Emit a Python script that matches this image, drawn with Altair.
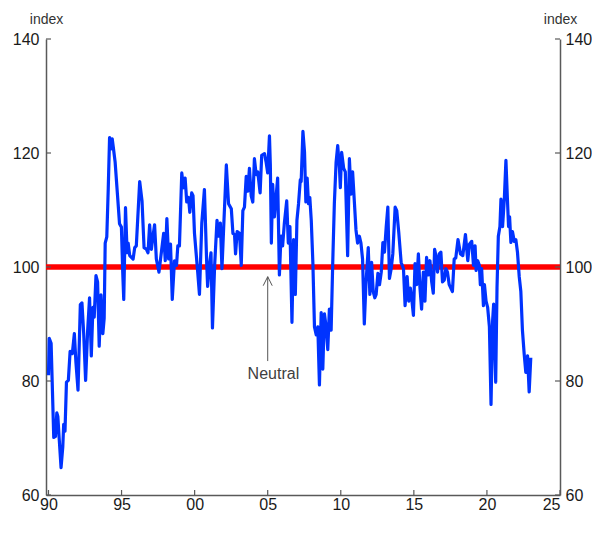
import altair as alt
import pandas as pd

# ---- data ----
years = [
    1990.00, 1990.05, 1990.18, 1990.36, 1990.48, 1990.57, 1990.64, 1990.73, 1990.86, 1990.98,
    1991.04, 1991.13, 1991.23, 1991.36, 1991.48, 1991.63, 1991.77, 1991.88, 1992.02, 1992.18,
    1992.29, 1992.41, 1992.54, 1992.68, 1992.81, 1992.93, 1993.04, 1993.13, 1993.25, 1993.36,
    1993.47, 1993.59, 1993.72, 1993.81, 1993.88, 1993.99, 1994.09, 1994.18, 1994.27, 1994.36,
    1994.45, 1994.56, 1994.72, 1994.86, 1994.99, 1995.08, 1995.15, 1995.27, 1995.38, 1995.45,
    1995.56, 1995.79, 1995.90, 1996.01, 1996.24, 1996.40, 1996.54, 1996.70, 1996.81, 1996.92,
    1997.04, 1997.15, 1997.26, 1997.38, 1997.56, 1997.72, 1997.88, 1997.99, 1998.10, 1998.22,
    1998.35, 1998.47, 1998.62, 1998.76, 1998.85, 1998.96, 1999.12, 1999.24, 1999.35, 1999.46,
    1999.58, 1999.67, 1999.80, 1999.89, 1999.99, 2000.10, 2000.21, 2000.33, 2000.49, 2000.67,
    2000.83, 2000.89, 2001.01, 2001.12, 2001.22, 2001.37, 2001.53, 2001.64, 2001.76, 2001.87,
    2001.98, 2002.17, 2002.32, 2002.51, 2002.62, 2002.73, 2002.80, 2002.91, 2003.07, 2003.19,
    2003.30, 2003.41, 2003.53, 2003.64, 2003.75, 2003.87, 2003.98, 2004.09, 2004.21, 2004.32,
    2004.48, 2004.59, 2004.78, 2004.89, 2005.00, 2005.12, 2005.18, 2005.25, 2005.34, 2005.46,
    2005.57, 2005.68, 2005.80, 2005.91, 2006.02, 2006.14, 2006.30, 2006.41, 2006.52, 2006.66,
    2006.77, 2006.89, 2007.00, 2007.11, 2007.23, 2007.29, 2007.41, 2007.52, 2007.61, 2007.70,
    2007.79, 2007.88, 2007.98, 2008.09, 2008.20, 2008.32, 2008.43, 2008.54, 2008.66, 2008.77,
    2008.88, 2009.00, 2009.11, 2009.22, 2009.34, 2009.45, 2009.56, 2009.68, 2009.79, 2009.91,
    2009.97, 2010.06, 2010.20, 2010.31, 2010.47, 2010.59, 2010.70, 2010.81, 2010.93, 2011.04,
    2011.15, 2011.27, 2011.38, 2011.49, 2011.61, 2011.72, 2011.88, 2011.99, 2012.11, 2012.22,
    2012.33, 2012.42, 2012.54, 2012.65, 2012.77, 2012.88, 2012.99, 2013.11, 2013.22, 2013.33,
    2013.45, 2013.56, 2013.72, 2013.83, 2013.97, 2014.13, 2014.29, 2014.40, 2014.54, 2014.65,
    2014.76, 2014.85, 2014.97, 2015.08, 2015.19, 2015.31, 2015.42, 2015.53, 2015.65, 2015.76,
    2015.87, 2015.99, 2016.10, 2016.22, 2016.33, 2016.42, 2016.51, 2016.62, 2016.74, 2016.85,
    2016.96, 2017.08, 2017.19, 2017.30, 2017.42, 2017.53, 2017.64, 2017.76, 2017.87, 2018.02,
    2018.19, 2018.35, 2018.53, 2018.69, 2018.80, 2018.96, 2019.08, 2019.19, 2019.26, 2019.37,
    2019.48, 2019.55, 2019.64, 2019.76, 2019.83, 2019.94, 2020.05, 2020.17, 2020.28, 2020.39,
    2020.46, 2020.60, 2020.69, 2020.78, 2020.89, 2020.96, 2021.07, 2021.19, 2021.30, 2021.41,
    2021.48, 2021.55, 2021.64, 2021.75, 2021.87, 2021.98, 2022.09, 2022.21, 2022.32, 2022.43,
    2022.55, 2022.66, 2022.78, 2022.89, 2023.00,
]
index_values = [
    81.0, 87.5, 86.6, 70.1, 70.3, 74.4, 73.8, 70.0, 64.8, 68.5,
    72.4, 71.2, 79.8, 80.1, 85.2, 84.8, 88.3, 83.2, 78.4, 93.4,
    93.7, 88.3, 80.1, 88.9, 94.6, 84.4, 92.9, 91.2, 98.5, 97.4,
    86.1, 95.1, 88.3, 91.0, 104.2, 105.3, 113.8, 122.7, 120.7, 122.5,
    120.7, 118.4, 112.7, 107.6, 107.0, 99.1, 94.3, 110.4, 102.5, 104.2,
    102.0, 101.4, 103.4, 103.7, 115.0, 111.6, 103.4, 103.1, 102.5, 107.4,
    103.1, 105.4, 107.4, 101.4, 99.1, 102.5, 105.9, 101.1, 108.5, 101.4,
    104.0, 94.3, 101.1, 100.3, 103.7, 103.7, 116.5, 113.9, 115.6, 111.4,
    112.2, 109.6, 113.0, 112.5, 105.9, 102.5, 99.1, 95.2, 107.7, 113.6,
    100.3, 96.6, 100.3, 102.5, 89.3, 100.3, 108.2, 105.4, 107.7, 99.7,
    106.5, 117.9, 111.1, 110.2, 105.9, 105.7, 102.3, 106.2, 105.9, 100.3,
    109.9, 110.5, 115.9, 113.3, 117.3, 112.5, 111.4, 119.0, 116.2, 116.7,
    113.0, 119.6, 119.9, 118.4, 116.5, 123.0, 117.9, 104.2, 114.5, 108.8,
    112.2, 115.6, 98.6, 105.4, 103.7, 107.7, 111.6, 104.2, 107.1, 90.3,
    104.8, 95.2, 108.2, 111.1, 115.3, 115.0, 123.8, 120.1, 111.4, 115.6,
    111.1, 112.2, 108.2, 100.8, 89.5, 88.1, 89.5, 79.3, 92.0, 82.1,
    91.8, 89.5, 85.5, 92.6, 88.9, 100.8, 111.1, 118.4, 121.3, 117.3,
    113.9, 120.1, 117.3, 116.7, 102.0, 119.0, 112.8, 116.7, 111.4, 106.5,
    104.2, 105.4, 104.2, 101.4, 90.0, 96.9, 103.4, 95.2, 100.8, 95.7,
    94.6, 95.2, 98.9, 96.9, 99.1, 104.3, 102.6, 107.1, 110.5, 98.0,
    99.7, 102.3, 110.5, 109.9, 106.0, 100.8, 99.7, 93.2, 98.3, 94.0,
    96.3, 94.6, 91.5, 100.6, 96.9, 102.3, 96.3, 92.6, 99.1, 94.0,
    101.7, 98.6, 101.1, 97.4, 95.4, 103.1, 102.0, 99.1, 102.3, 102.6,
    97.4, 97.7, 99.7, 99.1, 96.9, 96.3, 95.7, 101.4, 101.6, 104.8,
    102.3, 102.0, 105.7, 101.1, 104.0, 104.5, 100.3, 103.7, 99.4, 101.1,
    100.3, 96.9, 99.7, 93.2, 96.9, 94.0, 92.9, 89.5, 75.9, 90.6,
    93.5, 79.8, 96.3, 105.4, 107.1, 111.9, 107.1, 111.9, 118.7, 111.4,
    107.1, 108.8, 104.3, 106.2, 104.5, 104.8, 102.6, 98.3, 95.7, 88.9,
    84.7, 81.5, 84.4, 78.1, 84.1,
]
y_ticks = [60, 80, 100, 120, 140]
x_ticks = [1990, 1995, 2000, 2005, 2010, 2015, 2020, 2025]
neutral_level = [100]
annotation_text = "Neutral"

# ---- layout ----
W, H = 514, 456
FONT = "Liberation Sans"
AXIS_GRAY = "#595959"

df = pd.DataFrame({"year": years, "index": index_values})
ytick_df = pd.DataFrame({"v": y_ticks})
xtick_df = pd.DataFrame({"v": x_ticks})
neutral_df = pd.DataFrame({"level": neutral_level})

x_scale = alt.Scale(domain=[1989.83, 2025], nice=False, zero=False)
y_scale = alt.Scale(domain=[60, 140], nice=False, zero=False)


def y_axis(orient, pad):
    return alt.Axis(
        orient=orient, values=y_ticks, ticks=False, grid=False,
        domain=True, domainColor=AXIS_GRAY, domainWidth=1.5,
        labelFont=FONT, labelFontSize=16, labelColor="#1a1a1a", labelPadding=pad,
        title="index", titleAngle=0, titleX=0, titleY=-16,
        titleAlign="center", titleBaseline="alphabetic",
        titleFont=FONT, titleFontSize=14, titleFontWeight="normal", titleColor="#333333",
    )


x_axis = alt.Axis(
    orient="bottom", values=x_ticks, ticks=False, grid=False,
    domain=True, domainColor=AXIS_GRAY, domainWidth=1.5,
    labelFont=FONT, labelFontSize=16, labelColor="#1a1a1a", labelPadding=1,
    labelExpr="slice('0' + (datum.value % 100), -2)", title=None,
)

neutral_rule = alt.Chart(neutral_df).mark_rule(color="#FF0000", strokeWidth=5.5).encode(
    y=alt.Y("level:Q", scale=y_scale, axis=y_axis("right", 5)),
    x=alt.value(0), x2=alt.value(W),
)

line = alt.Chart(df).mark_line(color="#0033FF", strokeWidth=3.2, strokeJoin="round").encode(
    x=alt.X("year:Q", scale=x_scale, axis=x_axis),
    y=alt.Y("index:Q", scale=y_scale, axis=y_axis("left", 7)),
    order="year:Q",
)

left_ticks = alt.Chart(ytick_df).mark_rule(color=AXIS_GRAY, strokeWidth=1.2).encode(
    y=alt.Y("v:Q", scale=y_scale, axis=None), x=alt.value(0), x2=alt.value(5),
)
right_ticks = alt.Chart(ytick_df).mark_rule(color=AXIS_GRAY, strokeWidth=1.2).encode(
    y=alt.Y("v:Q", scale=y_scale, axis=None), x=alt.value(W - 5), x2=alt.value(W),
)
bottom_ticks = alt.Chart(xtick_df).mark_rule(color=AXIS_GRAY, strokeWidth=1.2).encode(
    x=alt.X("v:Q", scale=x_scale, axis=None), y=alt.value(H - 5), y2=alt.value(H),
)

arrow_line = alt.Chart(pd.DataFrame({"a": [0]})).mark_rule(color="#555555", strokeWidth=1).encode(
    x=alt.X("ax:Q", scale=x_scale, axis=None),
    y=alt.Y("ay:Q", scale=y_scale, axis=None),
    y2="ay2:Q",
).transform_calculate(ax="2005.0", ay="98.3", ay2="83.5")

arrow_head = alt.Chart(pd.DataFrame({"a": [0]})).mark_point(
    shape="M-0.5,1L0,0L0.5,1", filled=False, stroke="#555555", strokeWidth=1, size=324, opacity=1,
).encode(
    x=alt.X("ax:Q", scale=x_scale, axis=None),
    y=alt.Y("ay:Q", scale=y_scale, axis=None),
).transform_calculate(ax="2005.0", ay="98.3")

label = alt.Chart(pd.DataFrame({"t": [annotation_text]})).mark_text(
    font=FONT, fontSize=16, color="#404040", align="center", baseline="middle",
).encode(
    x=alt.X("ax:Q", scale=x_scale, axis=None),
    y=alt.Y("ay:Q", scale=y_scale, axis=None),
    text="t:N",
).transform_calculate(ax="2005.39", ay="81.3")

chart = alt.layer(
    neutral_rule, line, left_ticks, right_ticks, bottom_ticks, arrow_line, arrow_head, label,
).resolve_axis(y="independent", x="independent").properties(
    width=W, height=H,
    padding={"left": 38, "top": 31, "right": 32, "bottom": 19},
    autosize=alt.AutoSizeParams(type="none"),
    background="white",
).configure_view(stroke=None)

chart.save("out.html", embed_options={"renderer": "svg", "actions": False})
